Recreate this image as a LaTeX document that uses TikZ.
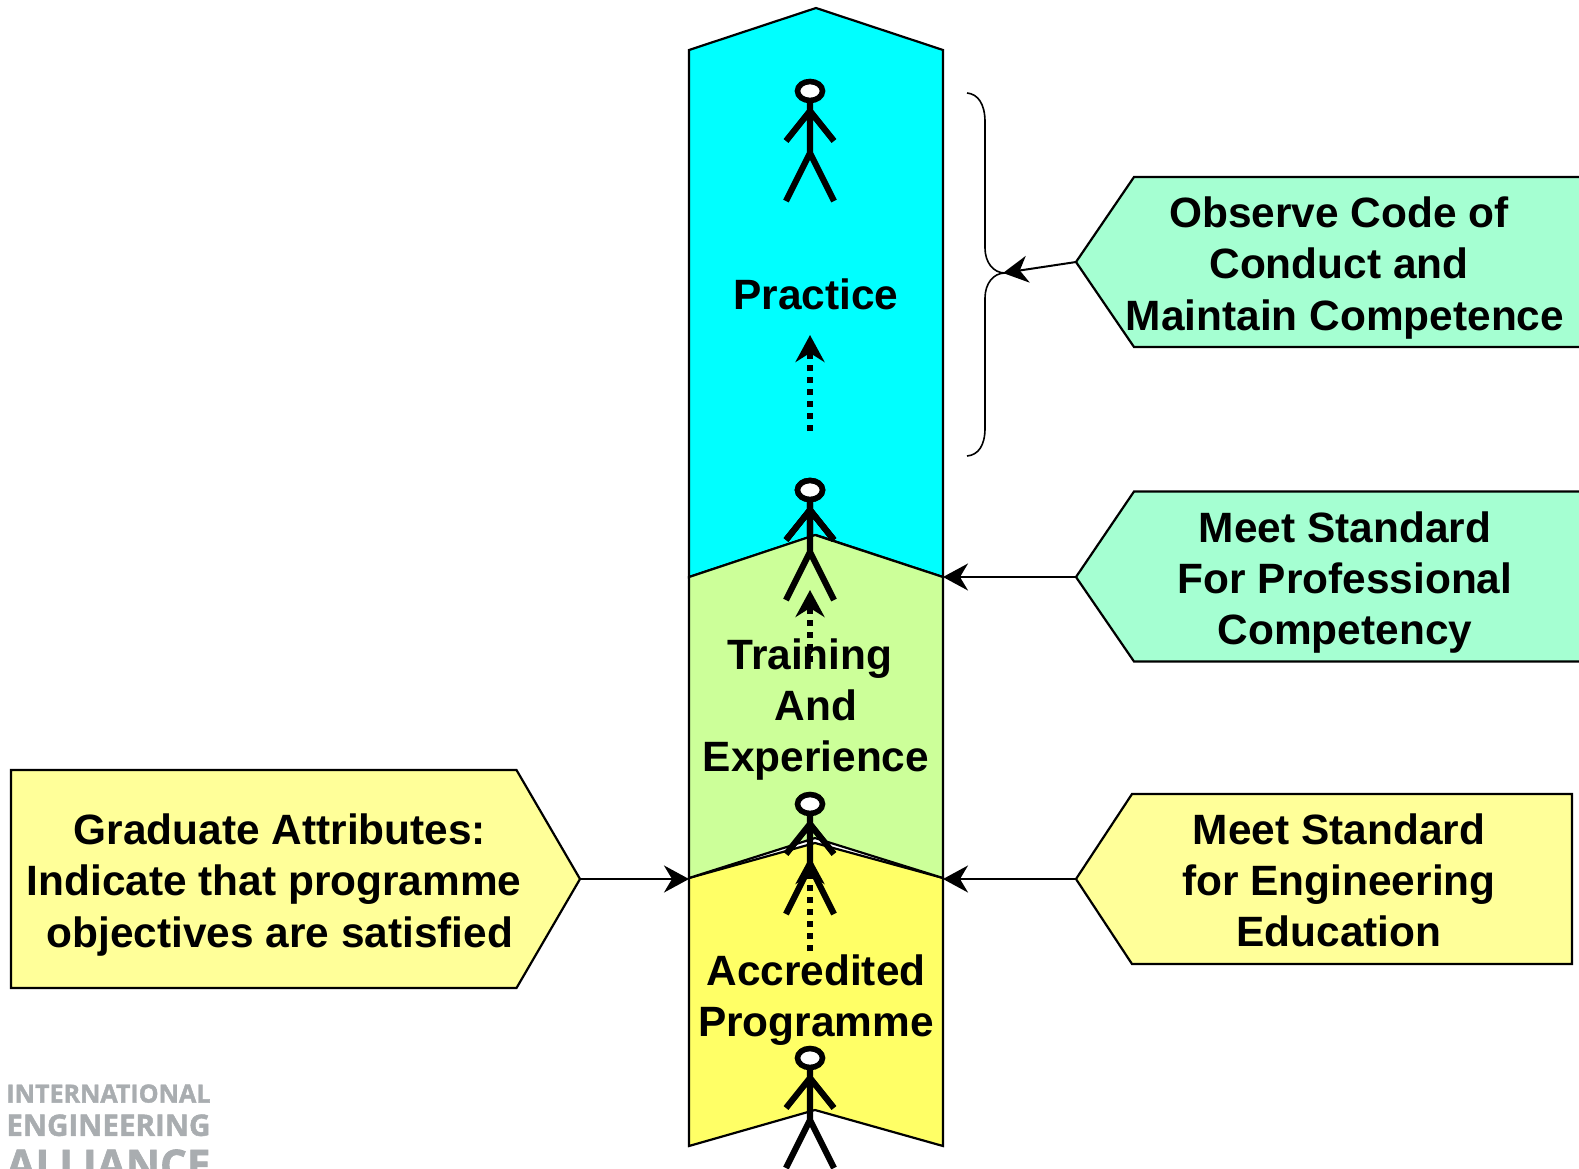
\documentclass[tikz,border=0pt]{standalone}
\usepackage{fontspec}
\setmainfont{Liberation Sans}
\newfontfamily\logofont[BoldFeatures={FakeBold=1.6}]{Open Sans}
\usetikzlibrary{arrows.meta}
\definecolor{colcyan}{HTML}{00FFFF}
\definecolor{colgreen}{HTML}{CCFF99}
\definecolor{colyellow}{HTML}{FFFF66}
\definecolor{colmint}{HTML}{A5FFD2}
\definecolor{colpale}{HTML}{FFFF99}
\definecolor{collogo}{HTML}{A9ADB0}
\newcommand{\rpad}{\hbox to 6pt{}}
\tikzset{
  x=0.5pt,y=-0.5pt,
  band/.style={draw=black,line width=1.1pt,line join=miter},
  tag/.style={draw=black,line width=1.1pt,line join=miter},
  label/.style={align=center,inner sep=0pt,font=\fontsize{21.2}{25.6}\selectfont\bfseries},
  conn/.style={draw=black,line width=1pt,-{Stealth[length=12.5pt,width=13.5pt,inset=4pt]}},
  progress/.style={draw=black,line width=2.7pt,dash pattern=on 3.2pt off 2.8pt,-{Stealth[length=13.5pt,width=14.5pt,inset=4.5pt]}},
  logotext/.style={inner sep=0pt,anchor=north west,text=collogo},
  stickman/.pic={
    \draw[line width=3.1pt,line cap=butt,line join=miter]
      (0,11) -- (0,62) (-24,50) -- (0,20) -- (24,50) (-24,110) -- (0,62) -- (24,110);
    \draw[line width=2.8pt,fill=white] (0,0) ellipse [x radius=12.5,y radius=9.5];
  }
}
\begin{document}
\begin{tikzpicture}
\useasboundingbox (0,0) rectangle (1579,1168);
\clip (0,0) rectangle (1579,1168);
% column bands
\draw[band,fill=colcyan] (689,50) -- (816,8) -- (943,50) -- (943,577) -- (816,535) -- (689,577) -- cycle;
\pic at (810,91) {stickman};
\pic at (810,490) {stickman};
\draw[band,fill=colyellow] (689,878) -- (815,843) -- (943,878) -- (943,1146) -- (815,1110) -- (689,1146) -- cycle;
\draw[band,fill=colgreen] (689,577) -- (815,535) -- (943,577) -- (943,878) -- (815,838) -- (689,878) -- cycle;
% coordinates of the connector ends
\coordinate (braceTip) at (1003,273);
\coordinate (bandPractice) at (943,577);
\coordinate (bandAccrR) at (943,879);
\coordinate (bandAccrL) at (689,879);
\coordinate (tagObserve) at (1076,262);
\coordinate (tagCompetency) at (1076,577);
\coordinate (tagEducation) at (1076,879);
\coordinate (tagGraduate) at (580,879);
\coordinate (a1s) at (810,431);
\coordinate (a1e) at (810,335);
\coordinate (a2s) at (810,662);
\coordinate (a2e) at (810,590);
\coordinate (a3s) at (810,951);
\coordinate (a3e) at (810,857);
% progress arrows
\draw[progress] (a1s) -- (a1e);
\draw[progress] (a2s) -- (a2e);
\draw[progress] (a3s) -- (a3e);
% people
\pic at (810,490) {stickman};
\pic at (810,804) {stickman};
\pic at (810,1058) {stickman};
% column labels
\node[label] (practice) at (816,294) {Practice};
\node[label] (training) at (816,709.5) {Training\rpad\\And\\Experience};
\node[label] (accredited) at (816,1000) {Accredited\\Programme};
% brace
\draw[line width=0.8pt] (967,93) .. controls (978,94) and (985,104) .. (985,122) -- (985,248) .. controls (985,262) and (993,273) .. (1005,273);
\draw[line width=0.8pt] (1005,273) .. controls (993,273) and (985,284) .. (985,298) -- (985,428) .. controls (985,446) and (978,455) .. (967,456);
% side tags
\draw[tag,fill=colmint] (tagObserve) -- (1134,177) -- (1600,177) -- (1600,347) -- (1134,347) -- cycle;
\draw[tag,fill=colmint] (tagCompetency) -- (1134,491.5) -- (1600,491.5) -- (1600,661.5) -- (1134,661.5) -- cycle;
\draw[tag,fill=colpale] (tagEducation) -- (1132,794) -- (1572,794) -- (1572,964) -- (1132,964) -- cycle;
\draw[tag,fill=colpale] (tagGraduate) -- (516.5,988) -- (11,988) -- (11,770) -- (516.5,770) -- cycle;
\node[label] (observe) at (1345,268) {Observe Code of\rpad\\Conduct and\rpad\\Maintain Competence};
\node[label] (competency) at (1345,582.5) {Meet Standard\\For Professional\\Competency};
\node[label] (education) at (1339,880.5) {Meet Standard\\for Engineering\\Education};
\node[label] (graduate) at (280,885) {Graduate Attributes:\\Indicate that programme\rpad\\objectives are satisfied};
% connectors
\draw[conn] (tagObserve) -- (braceTip);
\draw[conn] (tagCompetency) -- (bandPractice);
\draw[conn] (tagEducation) -- (bandAccrR);
\draw[conn] (tagGraduate) -- (bandAccrL);
% logo
\node[logotext] (logoA) at (6,1084) {\resizebox{102pt}{!}{\logofont\bfseries INTERNATIONAL}};
\node[logotext] (logoB) at (6,1114) {\resizebox{102pt}{!}{\logofont\bfseries ENGINEERING}};
\node[logotext] (logoC) at (6,1149) {\resizebox{102pt}{!}{\logofont\bfseries ALLIANCE}};
\end{tikzpicture}
\end{document}
